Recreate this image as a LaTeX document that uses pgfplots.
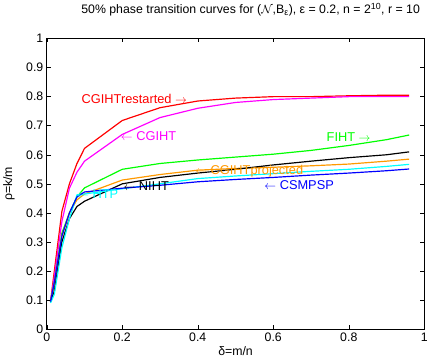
\documentclass[border=0pt]{standalone}
\usepackage{pgfplots}
\pgfplotsset{compat=1.18}
\usepackage{fontspec}
\setmainfont{Liberation Sans}
\definecolor{myorange}{rgb}{1,0.6,0}
\definecolor{mygreen}{rgb}{0,1,0}
\definecolor{mycyan}{rgb}{0,1,1}
\definecolor{mymag}{rgb}{1,0,1}
\definecolor{myblue}{rgb}{0,0,1}
\definecolor{myred}{rgb}{1,0,0}
\begin{document}
\begin{tikzpicture}[x=1bp,y=1bp]
\begin{axis}[
  name=ax,
  scale only axis, width=382bp, height=294bp,
  xmin=0, xmax=1, ymin=0, ymax=1,
  xtick={0,0.2,0.4,0.6,0.8,1},
  ytick={0,0.1,0.2,0.3,0.4,0.5,0.6,0.7,0.8,0.9,1},
  xticklabels={0,0.2,0.4,0.6,0.8,1},
  yticklabels={0,0.1,0.2,0.3,0.4,0.5,0.6,0.7,0.8,0.9,1},
  tick align=inside, major tick length=4bp,
  tick style={black, line width=0.5bp},
  axis line style={line width=0.7bp},
  ticklabel style={font=\fontsize{12.5}{14}\selectfont},
  xlabel={δ=m/n}, ylabel={ρ=k/m},
  xlabel style={font=\fontsize{12.5}{14}\selectfont, at={(axis description cs:0.5,-0.075)}, anchor=center},
  ylabel style={font=\fontsize{12.5}{14}\selectfont, at={(axis description cs:-0.1,0.5)}, anchor=center},
  title={50\% phase transition curves for ($\mathcal{N}$,B$_{\mbox{\fontsize{9}{10}\selectfont ε}}$), ε = 0.2, n = 2$^{\mbox{\fontsize{9}{10}\selectfont 10}}$, r = 10},
  title style={font=\fontsize{12.5}{14}\selectfont, at={(axis description cs:0.54,1.078)}, anchor=center},
  every axis plot/.append style={line width=1.2bp},
]
% CGIHTrestarted red
\addplot[myred] coordinates {(0.01,0.095)(0.02,0.2)(0.04,0.405)(0.06,0.50)(0.08,0.57)(0.1,0.622)(0.2,0.718)(0.3,0.762)(0.4,0.785)(0.5,0.795)(0.6,0.80)(0.7,0.80)(0.8,0.803)(0.9,0.805)(0.96,0.805)};
% CGIHT magenta
\addplot[mymag] coordinates {(0.01,0.095)(0.02,0.18)(0.04,0.37)(0.06,0.485)(0.08,0.54)(0.1,0.578)(0.2,0.67)(0.3,0.728)(0.4,0.76)(0.5,0.78)(0.6,0.79)(0.7,0.795)(0.8,0.80)(0.9,0.80)(0.96,0.80)};
% FIHT green
\addplot[mygreen] coordinates {(0.01,0.095)(0.02,0.16)(0.04,0.33)(0.06,0.40)(0.08,0.455)(0.1,0.486)(0.2,0.55)(0.3,0.57)(0.4,0.582)(0.5,0.592)(0.6,0.602)(0.7,0.615)(0.8,0.632)(0.9,0.652)(0.96,0.668)};
% CGIHTprojected orange
\addplot[myorange] coordinates {(0.01,0.095)(0.02,0.15)(0.04,0.32)(0.06,0.40)(0.08,0.445)(0.1,0.465)(0.2,0.513)(0.3,0.532)(0.4,0.547)(0.5,0.553)(0.6,0.557)(0.7,0.562)(0.8,0.568)(0.9,0.578)(0.96,0.585)};
% NIHT black
\addplot[black] coordinates {(0.01,0.095)(0.02,0.13)(0.04,0.30)(0.06,0.38)(0.08,0.422)(0.1,0.44)(0.2,0.50)(0.3,0.522)(0.4,0.537)(0.5,0.55)(0.6,0.565)(0.7,0.578)(0.8,0.59)(0.9,0.60)(0.96,0.61)};
% HTP cyan
\addplot[mycyan] coordinates {(0.01,0.09)(0.02,0.12)(0.04,0.28)(0.06,0.38)(0.08,0.462)(0.1,0.465)(0.2,0.483)(0.3,0.50)(0.4,0.518)(0.5,0.527)(0.6,0.535)(0.7,0.543)(0.8,0.55)(0.9,0.56)(0.96,0.567)};
% CSMPSP blue
\addplot[myblue] coordinates {(0.01,0.095)(0.02,0.16)(0.04,0.32)(0.06,0.40)(0.08,0.455)(0.1,0.472)(0.2,0.485)(0.3,0.495)(0.4,0.507)(0.5,0.515)(0.6,0.522)(0.7,0.53)(0.8,0.537)(0.9,0.545)(0.96,0.551)};
\begin{scope}[every node/.style={font=\fontsize{13}{15}\selectfont, inner sep=0pt, anchor=west}]
\node[myred] at (axis cs:0.092,0.793) {CGIHTrestarted $\rightarrow$};
\node[mymag] at (axis cs:0.196,0.663) {$\leftarrow$ CGIHT};
\node[mygreen] at (axis cs:0.741,0.66) {FIHT $\rightarrow$};
\node[myorange] at (axis cs:0.393,0.542) {$\leftarrow$ CGIHTprojected};
\node[myblue] at (axis cs:0.576,0.497) {$\leftarrow$ CSMPSP};
\node[black] at (axis cs:0.203,0.493) {$\leftarrow$ NIHT};
\node[mycyan] at (axis cs:0.08,0.463) {$\leftarrow$ HTP};
\end{scope}
\end{axis}
\path ([xshift=-47bp,yshift=-30bp]ax.south west) rectangle ([xshift=2bp,yshift=39bp]ax.north east);
\end{tikzpicture}
\end{document}
